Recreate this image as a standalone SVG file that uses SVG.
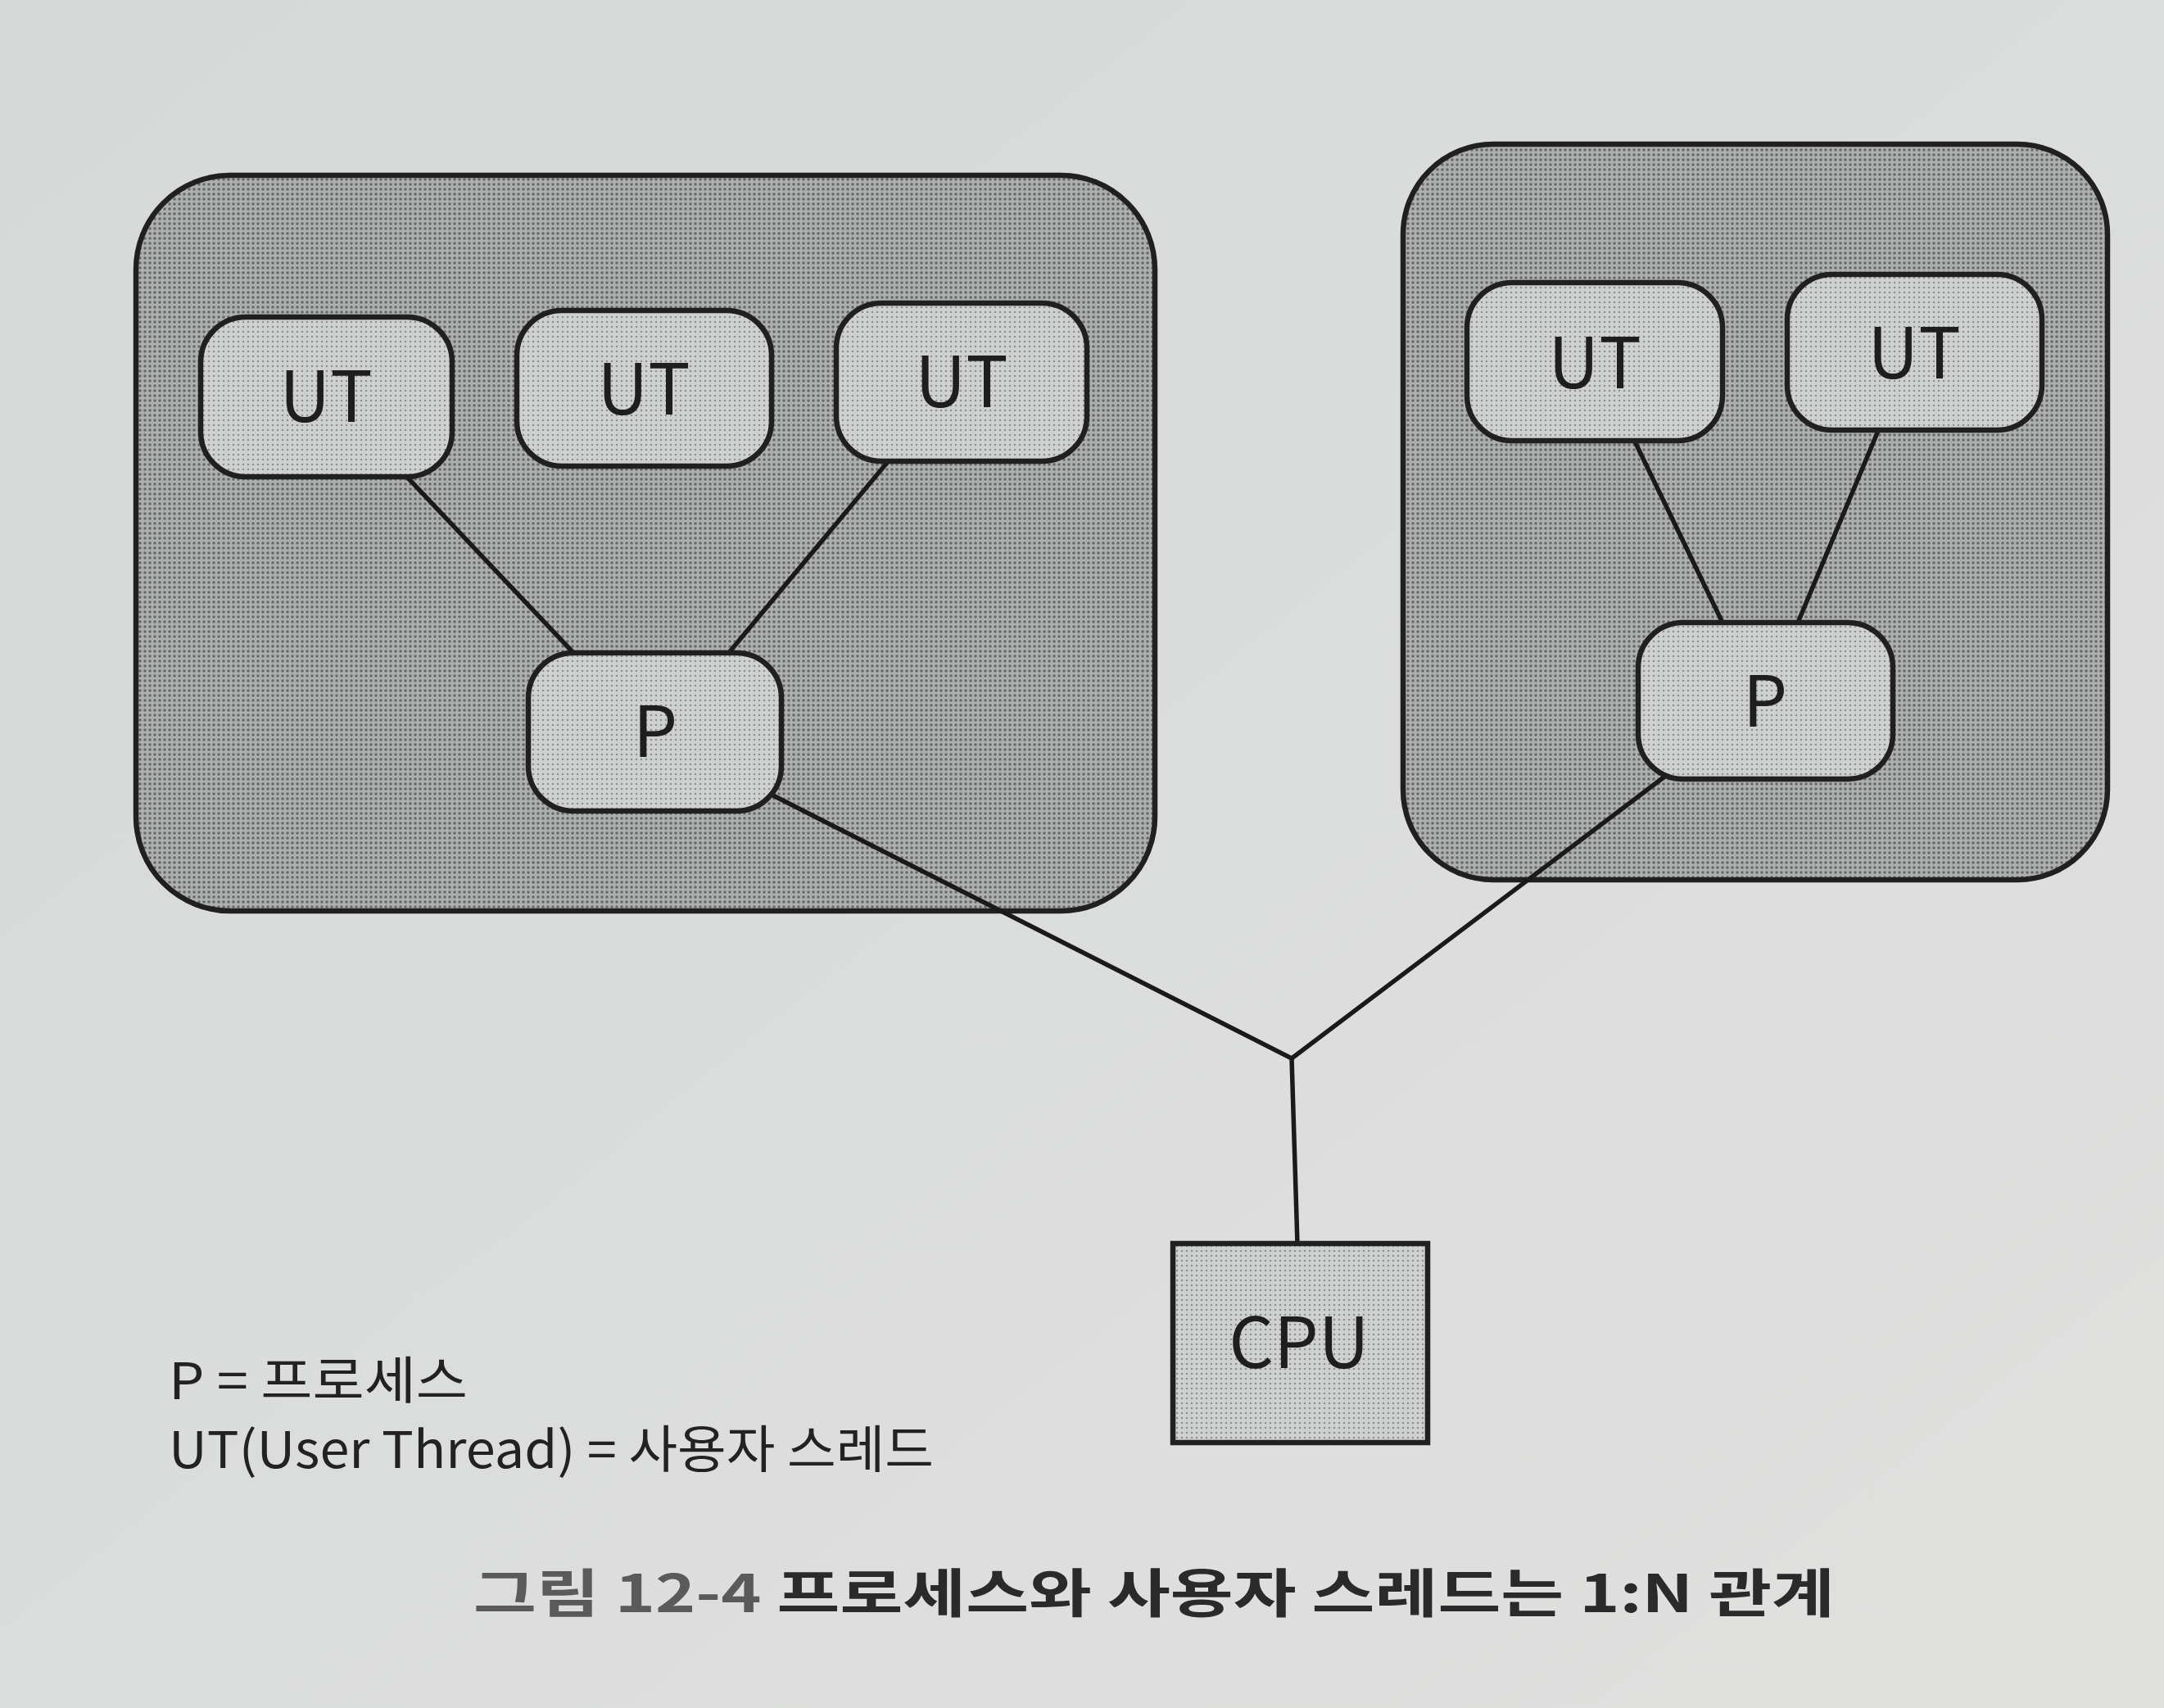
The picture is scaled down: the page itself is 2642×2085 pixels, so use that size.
<svg xmlns="http://www.w3.org/2000/svg" width="2642" height="2085" viewBox="0 0 2642 2085">
<defs>
<linearGradient id="bg" x1="0" y1="0" x2="1" y2="1">
<stop offset="0" stop-color="#d6d9d8"/>
<stop offset="1" stop-color="#e0e1df"/>
</linearGradient>
<pattern id="dotDark" width="6" height="6" patternUnits="userSpaceOnUse">
<rect width="6" height="6" fill="#aeb0af"/>
<circle cx="3" cy="3" r="1.8" fill="#666867"/>
</pattern>
<pattern id="dotLight" width="6" height="6" patternUnits="userSpaceOnUse">
<rect width="6" height="6" fill="#cfd1d0"/>
<circle cx="3" cy="3" r="1.3" fill="#8f9190"/>
</pattern>
</defs>
<style>
.proc{fill:url(#dotDark);stroke:#202020;stroke-width:6.5}
.node{fill:url(#dotLight);stroke:#202020;stroke-width:6.5}
.conn line{stroke:#1a1a1a;stroke-width:5.5;stroke-linecap:round}
.lbl{font-family:"Noto Sans CJK KR","Noto Sans",sans-serif;font-size:86px;fill:#1e1e1e;text-anchor:middle}
.leg{font-family:"Noto Sans CJK KR","Noto Sans",sans-serif;font-size:62px;fill:#222}
.cap{font-family:"Noto Sans CJK KR","Noto Sans",sans-serif;font-size:64px;font-weight:bold;fill:#2a2a2a}
</style>
<rect width="2642" height="2085" fill="url(#bg)"/>

<g id="process-left"><rect class="proc" x="166" y="214" width="1244" height="898" rx="115"/></g>
<g id="process-right"><rect class="proc" x="1713" y="176" width="860" height="898" rx="110"/></g>

<g id="connectors" class="conn">
<line x1="490" y1="575" x2="704" y2="801"/>
<line x1="1087" y1="560" x2="888" y2="799"/>
<line x1="1994" y1="535" x2="2104" y2="762"/>
<line x1="2293" y1="526" x2="2195" y2="760"/>
<line x1="934" y1="966" x2="1577" y2="1292"/>
<line x1="2035" y1="946" x2="1577" y2="1292"/>
<line x1="1577" y1="1292" x2="1584" y2="1519"/>
</g>

<g id="ut1"><rect class="node" x="245" y="387" width="307" height="195" rx="55"/><text class="lbl" x="398" y="515">UT</text></g>
<g id="ut2"><rect class="node" x="631" y="379" width="311" height="190" rx="55"/><text class="lbl" x="786" y="506">UT</text></g>
<g id="ut3"><rect class="node" x="1021" y="370" width="306" height="193" rx="55"/><text class="lbl" x="1174" y="497">UT</text></g>
<g id="p1"><rect class="node" x="645" y="797" width="309" height="193" rx="55"/><text class="lbl" x="800" y="924">P</text></g>

<g id="ut4"><rect class="node" x="1791" y="345" width="312" height="193" rx="55"/><text class="lbl" x="1947" y="474">UT</text></g>
<g id="ut5"><rect class="node" x="2182" y="335" width="311" height="190" rx="55"/><text class="lbl" x="2337" y="462">UT</text></g>
<g id="p2"><rect class="node" x="2000" y="760" width="311" height="191" rx="55"/><text class="lbl" x="2155" y="887">P</text></g>

<g id="cpu"><rect class="node" x="1432" y="1518" width="311" height="243" rx="0"/><text class="lbl" x="1586" y="1670">CPU</text></g>

<g id="legend">
<text class="leg" x="206" y="1708" textLength="365" lengthAdjust="spacingAndGlyphs">P = 프로세스</text>
<text class="leg" x="206" y="1792" textLength="934" lengthAdjust="spacingAndGlyphs">UT(User Thread) = 사용자 스레드</text>
</g>
<g id="caption">
<text class="cap" x="578" y="1968" textLength="1662" lengthAdjust="spacingAndGlyphs"><tspan fill="#5a5a5a">그림 12-4</tspan> 프로세스와 사용자 스레드는 1:N 관계</text>
</g>
</svg>
